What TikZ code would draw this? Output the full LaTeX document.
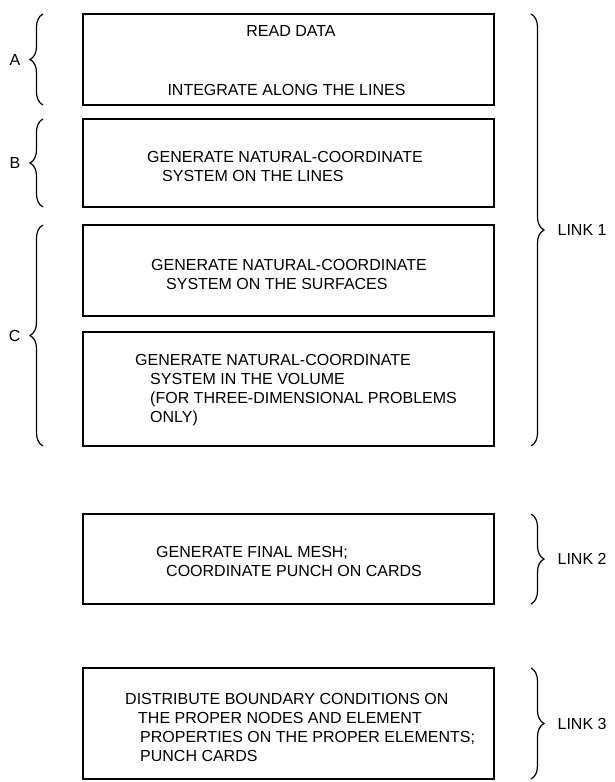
\documentclass[tikz,border=0pt]{standalone}
\usepackage{fontspec}
\setmainfont{Liberation Sans}
\usetikzlibrary{positioning,decorations.pathreplacing}

\begin{document}
\begin{tikzpicture}[x=1pt,y=-1pt,font=\fontsize{16}{19}\selectfont]
		\tikzstyle{box}=[draw,line width=2pt,minimum width=411pt,inner sep=0pt,outer sep=0pt]
		\tikzstyle{txt}=[align=left,anchor=west,inner sep=0pt]
		\tikzstyle{brc}=[decorate,decoration={brace,amplitude=13pt},line width=1.2pt]
		\useasboundingbox (0,0) rectangle (614,782);
		% the six blocks
		\node[box,minimum height=91pt] (read) at (288.5,59.5) {};
		\node[box,minimum height=88pt] (lines) [below=14pt of read] {};
		\node[box,minimum height=91pt] (surf) [below=18pt of lines] {};
		\node[box,minimum height=114pt] (vol) [below=16pt of surf] {};
		\node[box,minimum height=90pt] (mesh) [below=68pt of vol] {};
		\node[box,minimum height=111pt] (bound) [below=64pt of mesh] {};
		% texts
		\node (readT) at (291,31) {READ DATA};
		\node (integT) at (286.5,90) {INTEGRATE ALONG THE LINES};
		\node[txt] (linesT) at (147,166.5) {GENERATE NATURAL-COORDINATE\\\hspace*{15pt}SYSTEM ON THE LINES};
		\node[txt] (surfT) at (151,274.5) {GENERATE NATURAL-COORDINATE\\\hspace*{15pt}SYSTEM ON THE SURFACES};
		\node[txt] (volT) at (135,390) {GENERATE NATURAL-COORDINATE\\\hspace*{15pt}SYSTEM IN THE VOLUME\\\hspace*{15pt}(FOR THREE-DIMENSIONAL PROBLEMS\\\hspace*{15pt}ONLY)};
		\node[txt] (meshT) at (156,561) {GENERATE FINAL MESH;\\\hspace*{10pt}COORDINATE PUNCH ON CARDS};
		\node[txt] (boundT) at (125,727.5) {DISTRIBUTE BOUNDARY CONDITIONS ON\\\hspace*{13pt}THE PROPER NODES AND ELEMENT\\\hspace*{15pt}PROPERTIES ON THE PROPER ELEMENTS;\\\hspace*{15pt}PUNCH CARDS};
		% braces
		\draw[brc] ([xshift=-40pt]read.south west) -- ([xshift=-40pt]read.north west) node[midway,left=22pt,inner sep=0pt] (A) {A};
		\draw[brc] ([xshift=-40pt]lines.south west) -- ([xshift=-40pt]lines.north west) node[midway,left=22pt,inner sep=0pt] (B) {B};
		\draw[brc] ([xshift=-40pt]vol.south west) -- ([xshift=-40pt]surf.north west) node[midway,left=22pt,inner sep=0pt] (C) {C};
		\draw[brc] ([xshift=37pt]read.north east) -- ([xshift=37pt]vol.south east) node[midway,right=26pt,inner sep=0pt] (link1) {LINK 1};
		\draw[brc] ([xshift=37pt]mesh.north east) -- ([xshift=37pt]mesh.south east) node[midway,right=26pt,inner sep=0pt] (link2) {LINK 2};
		\draw[brc] ([xshift=37pt]bound.north east) -- ([xshift=37pt]bound.south east) node[midway,right=26pt,inner sep=0pt] (link3) {LINK 3};
\end{tikzpicture}
\end{document}
